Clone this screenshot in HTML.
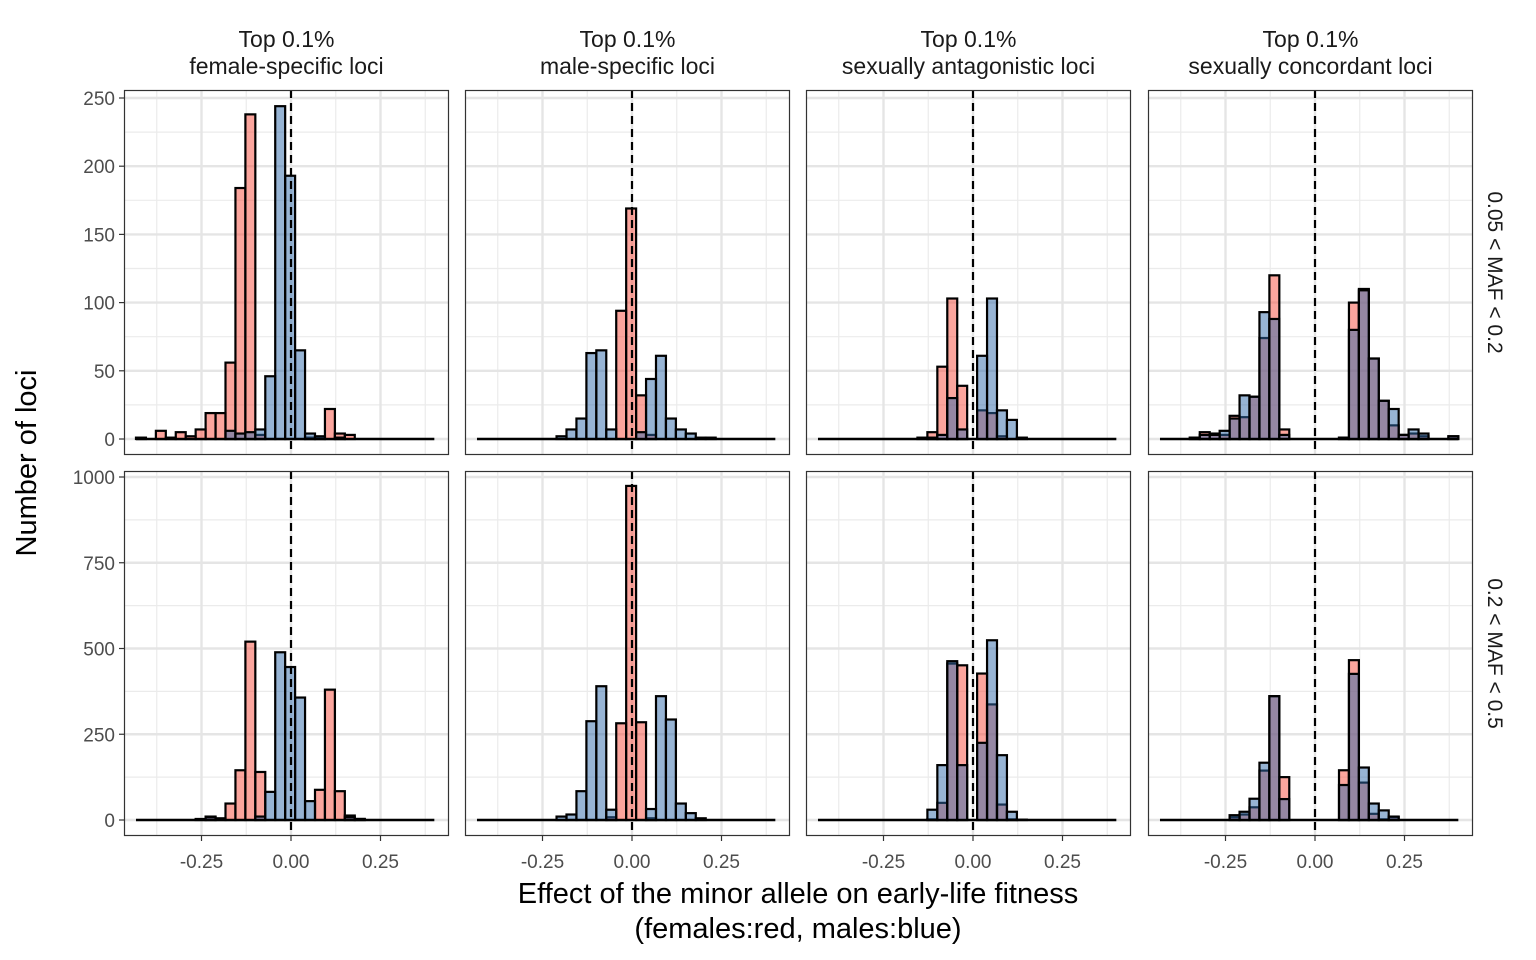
<!DOCTYPE html>
<html><head><meta charset="utf-8"><style>
body{margin:0;background:#fff;}
svg{display:block;font-family:"Liberation Sans",sans-serif;}
</style></head><body>
<svg id="chart" width="1536" height="960" viewBox="0 0 1536 960" xmlns="http://www.w3.org/2000/svg"></svg>
<script>
const colTitles1 = ["Top 0.1%","Top 0.1%","Top 0.1%","Top 0.1%"];
const colTitles2 = ["female-specific loci","male-specific loci","sexually antagonistic loci","sexually concordant loci"];
const rowTitles = ["0.05 < MAF < 0.2","0.2 < MAF < 0.5"];
const xTicks = [-0.25,0,0.25];
const xTickLabels = ["-0.25","0.00","0.25"];
const yTicksTop = [0,50,100,150,200,250];
const yTicksBottom = [0,250,500,750,1000];
const binStart = -0.433;
const binWidth = 0.02778;
const nBins = 30;
const p1TopF = [1,0,6,1,5,2,7,19,19,56,184,238,3,0,0,0,0,1,1,22,4,3,0,0,0,0,0,0,0,0];
const p1TopM = [0,0,0,0,0,0,0,0,0,6,4,5,7,46,244,193,65,4,2,0,1,0,0,0,0,0,0,0,0,0];
const p1BotF = [0,0,0,0,0,0,3,10,5,48,145,520,140,0,0,0,0,0,88,380,84,13,3,0,0,0,0,0,0,0];
const p1BotM = [0,0,0,0,0,0,0,8,0,0,0,0,10,82,489,446,357,55,0,0,0,8,3,0,0,0,0,0,0,0];
const p2TopF = [0,0,0,0,0,0,0,0,0,0,0,0,0,0,94,169,32,3,0,0,0,0,0,0,0,0,0,0,0,0];
const p2TopM = [0,0,0,0,0,0,0,0,2,7,15,63,65,7,0,0,5,44,61,15,7,4,1,1,0,0,0,0,0,0];
const p2BotF = [0,0,0,0,0,0,0,0,0,0,0,0,0,8,282,974,285,5,0,0,0,0,0,0,0,0,0,0,0,0];
const p2BotM = [0,0,0,0,0,0,0,0,10,16,84,288,390,30,0,0,0,32,361,293,48,20,5,0,0,0,0,0,0,0];
const p3TopF = [0,0,0,0,0,0,0,0,0,0,1,5,53,103,39,0,21,19,2,0,0,0,0,0,0,0,0,0,0,0];
const p3TopM = [0,0,0,0,0,0,0,0,0,0,0,1,3,30,7,0,61,103,21,14,1,0,0,0,0,0,0,0,0,0];
const p3BotF = [0,0,0,0,0,0,0,0,0,0,0,2,50,456,451,0,427,337,45,2,0,0,0,0,0,0,0,0,0,0];
const p3BotM = [0,0,0,0,0,0,0,0,0,0,0,30,160,463,160,0,225,524,189,24,1,0,0,0,0,0,0,0,0,0];
const p4TopF = [0,0,0,1,5,4,3,17,16,31,74,120,7,0,0,0,0,0,1,100,110,59,28,10,3,4,2,0,0,2];
const p4TopM = [0,0,0,1,3,3,6,15,32,31,93,88,3,0,0,0,0,0,1,80,109,59,28,22,3,7,4,0,0,2];
const p4BotF = [0,0,0,0,0,0,0,8,16,37,144,361,125,0,0,0,0,0,145,466,109,18,2,8,0,0,0,0,0,0];
const p4BotM = [0,0,0,0,0,0,0,14,24,62,167,361,61,0,0,0,0,0,102,426,153,48,28,10,0,0,0,0,0,0];

const panelsF = [[p1TopF,p2TopF,p3TopF,p4TopF],[p1BotF,p2BotF,p3BotF,p4BotF]];
const panelsM = [[p1TopM,p2TopM,p3TopM,p4TopM],[p1BotM,p2BotM,p3BotM,p4BotM]];

const NS="http://www.w3.org/2000/svg";
const svg=document.getElementById('chart');
function mk(tag,attrs,parent){const e=document.createElementNS(NS,tag);for(const k in attrs)e.setAttribute(k,attrs[k]);(parent||svg).appendChild(e);return e;}
const panelLefts=[124,465,806,1148];
const panelW=325;
const rowTops=[90,471];
const panelH=365;
function xScale(p,v){return panelLefts[p]+167+v*358;}
const yBase=[439,820];
const yPer=[1.364,0.343];
function yScale(r,c){return yBase[r]-c*yPer[r];}

for(let r=0;r<2;r++){
  const ticks=r===0?yTicksTop:yTicksBottom;
  const step=ticks[1]-ticks[0];
  for(let p=0;p<4;p++){
    const g=mk('g',{});
    
    
    const L=panelLefts[p],T=rowTops[r];
    mk('rect',{x:L,y:T,width:panelW,height:panelH,fill:'#fff'},g);
    for(let i=0;i<ticks.length;i++){
      const yy=yScale(r,ticks[i]+step/2);
      if(yy>T&&yy<T+panelH)mk('line',{x1:L,x2:L+panelW,y1:yy,y2:yy,stroke:'#ebebeb','stroke-width':1.2},g);
      const ym=yScale(r,ticks[i]-step/2);
      if(i===0&&ym<T+panelH)mk('line',{x1:L,x2:L+panelW,y1:ym,y2:ym,stroke:'#ebebeb','stroke-width':1.2},g);
    }
    [-0.375,-0.125,0.125,0.375].forEach(v=>{const xx=xScale(p,v);mk('line',{x1:xx,x2:xx,y1:T,y2:T+panelH,stroke:'#ebebeb','stroke-width':1.2},g);});
    ticks.forEach(t=>{const yy=yScale(r,t);const gl=mk('line',{x1:L,x2:L+panelW,y1:yy,y2:yy,stroke:'#e5e5e5','stroke-width':2.4},g);});
    xTicks.forEach(t=>{const xx=xScale(p,t);mk('line',{x1:xx,x2:xx,y1:T,y2:T+panelH,stroke:'#e5e5e5','stroke-width':2.4},g);});
    const F=panelsF[r][p],M=panelsM[r][p];
    const bl=mk('line',{x1:xScale(p,binStart),x2:xScale(p,binStart+nBins*binWidth),y1:yBase[r],y2:yBase[r],stroke:'#000','stroke-width':2.4},g);
    
    
    [[F,'#F84C3C','female'],[M,'#2F69A9','male']].forEach(([arr,col,nm])=>{
      for(let k=0;k<arr.length;k++){
        if(arr[k]<=0)continue;
        const x0=xScale(p,binStart+k*binWidth),x1=xScale(p,binStart+(k+1)*binWidth);
        const y0=yScale(r,arr[k]);
        const b=mk('rect',{x:x0,y:y0,width:x1-x0,height:yBase[r]-y0,fill:col,'fill-opacity':0.5,stroke:'#000','stroke-width':2.2},g);
        
        
      }
    });
    const z=xScale(p,0);
    const dl=mk('line',{x1:z,x2:z,y1:T,y2:T+panelH,stroke:'#000','stroke-width':2.2,'stroke-dasharray':'8,5'},g);
    
    
    mk('rect',{x:L+0.5,y:T+0.5,width:panelW-1,height:panelH-1,fill:'none',stroke:'#333','stroke-width':1.2},g);
    if(p===0){
      ticks.forEach(t=>{const yy=yScale(r,t);
        mk('line',{x1:L-5,x2:L,y1:yy,y2:yy,stroke:'#333','stroke-width':1.2},svg);
        const tx=mk('text',{x:L-9,y:yy+7,'text-anchor':'end','font-size':19,fill:'#4d4d4d'});tx.textContent=t;
        });
    }
    if(r===1){
      xTicks.forEach((t,i)=>{const xx=xScale(p,t);
        mk('line',{x1:xx,x2:xx,y1:T+panelH,y2:T+panelH+5,stroke:'#333','stroke-width':1.2},svg);
        const tx=mk('text',{x:xx,y:868,'text-anchor':'middle','font-size':19,fill:'#4d4d4d'});tx.textContent=xTickLabels[i];
        });
    }
  }
}
for(let p=0;p<4;p++){
  const cx=panelLefts[p]+panelW/2;
  const t1=mk('text',{x:cx,y:47,'text-anchor':'middle','font-size':23,fill:'#1a1a1a'});t1.textContent=colTitles1[p];
  
  const t2=mk('text',{x:cx,y:74,'text-anchor':'middle','font-size':23,fill:'#1a1a1a'});t2.textContent=colTitles2[p];
  
}
for(let r=0;r<2;r++){
  const cy=rowTops[r]+panelH/2;
  const t=mk('text',{x:1488,y:cy,'text-anchor':'middle','font-size':21,fill:'#1a1a1a',transform:'rotate(90 1488 '+cy+')'});t.textContent=rowTitles[r];
  
}
const xt1=mk('text',{x:798,y:903,'text-anchor':'middle','font-size':29,fill:'#000'});xt1.textContent="Effect of the minor allele on early-life fitness";

const xt2=mk('text',{x:798,y:938,'text-anchor':'middle','font-size':29,fill:'#000'});xt2.textContent="(females:red, males:blue)";

const yt=mk('text',{x:36,y:463,'text-anchor':'middle','font-size':29,fill:'#000',transform:'rotate(-90 36 463)'});yt.textContent="Number of loci";

</script>
</body></html>
